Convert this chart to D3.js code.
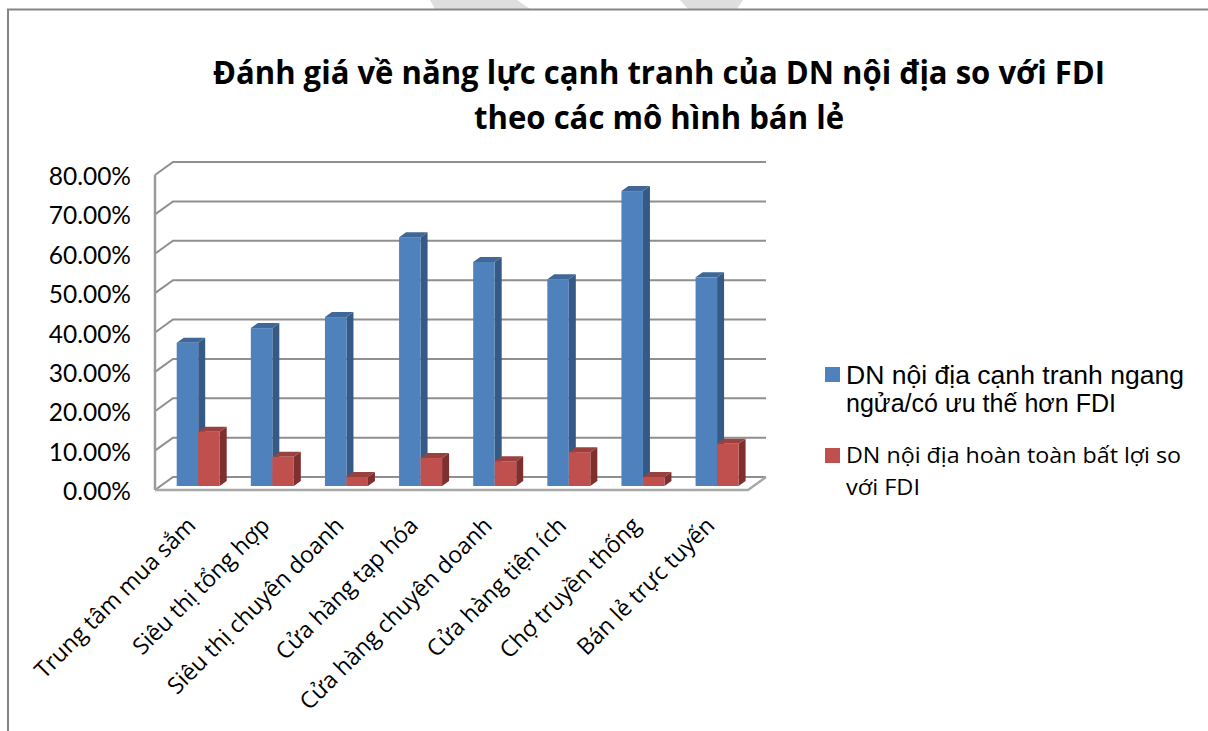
<!DOCTYPE html>
<html><head><meta charset="utf-8">
<script src="https://cdnjs.cloudflare.com/ajax/libs/d3/7.8.5/d3.min.js"></script>
<style>html,body{margin:0;background:#fff}svg{display:block}</style></head>
<body><svg id="c" width="1208" height="731"></svg>
<script>
const categories = ["Trung tâm mua sắm","Siêu thị tổng hợp","Siêu thị chuyên doanh","Cửa hàng tạp hóa","Cửa hàng chuyên doanh","Cửa hàng tiện ích","Chợ truyền thống","Bán lẻ trực tuyến"];
const domestic = [36.4,40.1,42.9,63.2,56.9,52.5,74.9,53.0];
const disadvantaged = [13.8,7.4,2.3,7.1,6.3,8.6,2.3,10.7];
const yTicks = [0,10,20,30,40,50,60,70,80];
const titleLines = ["Đánh giá về năng lực cạnh tranh của DN nội địa so với FDI","theo các mô hình bán lẻ"];
const legendOne = ["DN nội địa cạnh tranh ngang","ngửa/có ưu thế hơn FDI"];
const legendTwo = ["DN nội địa hoàn toàn bất lợi so","với FDI"];

const svg = d3.select("#c");
const sans = "'Open Sans', 'Noto Sans', sans-serif";
const dx = 18, dy = 13, bdx = 7, bdy = 5;
const x0 = 155, x1 = 748;
const y = d3.scaleLinear().domain([0,80]).range([490,175]);
const xCat = d3.scaleBand().domain(categories).range([x0+4,x1+4]);
const step = xCat.step();
const barW = 21.5, firstOffset = 17.7;

// watermark fragments above the frame
svg.append("path").attr("d","M430 0L435 9L530 9L517 0Z").attr("fill","#dedede");
svg.append("path").attr("d","M680 0L688 9L737 9L743 0Z").attr("fill","#dedede");

// frame
svg.append("path").attr("d","M8 731V9.5H1208").attr("fill","none").attr("stroke","#858585").attr("stroke-width",2);

// title
const titleWidths = [892,370];
svg.append("g").selectAll("text").data(titleLines).join("text")
  .attr("x",659).attr("y",(d,i)=>84+i*45).attr("text-anchor","middle")
  .attr("textLength",(d,i)=>titleWidths[i]).attr("lengthAdjust","spacingAndGlyphs")
  .attr("font-family",sans).attr("font-weight",700).attr("font-size",33).attr("fill","#000").text(d=>d);

// walls + gridlines
svg.append("g").attr("fill","none").attr("stroke","#8f8f8f").attr("stroke-width",2)
  .selectAll("path").data(yTicks).join("path")
  .attr("d",d=>`M${x0} ${y(d)}L${x0+dx} ${y(d)-dy}H${x1+dx}`);
svg.append("path").attr("d",`M${x0} ${y(0)}V${y(80)}`).attr("stroke","#9a9a9a").attr("stroke-width",2.5).attr("fill","none");
svg.append("path").attr("d",`M${x0} ${y(0)}H${x1}L${x1+dx} ${y(0)-dy}`).attr("stroke","#a8a8a8").attr("stroke-width",2.5).attr("fill","none");

// y labels
svg.append("g").selectAll("text").data(yTicks).join("text")
  .attr("x",131).attr("y",d=>y(d)+10).attr("text-anchor","end")
  .attr("font-family","Lato, sans-serif").attr("font-size",24.5).attr("fill","#000").text(d=>d.toFixed(2)+"%");

// bars
const base = y(0)-4;
const h = d => y(0)-y(d);
function bar(g, X, v, c, top, side){
  const T = base-h(v);
  g.append("path").attr("fill",side).attr("d",`M${X+barW} ${T}l${bdx} ${-bdy}V${base-bdy}l${-bdx} ${bdy}Z`);
  g.append("path").attr("fill",top).attr("d",`M${X} ${T}l${bdx} ${-bdy}h${barW}l${-bdx} ${bdy}Z`);
  g.append("rect").attr("fill",c).attr("x",X).attr("width",barW).attr("y",T).attr("height",h(v));
}
categories.forEach((c,i)=>{
  const g = svg.append("g"), X = xCat(c)+firstOffset;
  bar(g, X, domestic[i], "#4f81bd","#3f6797","#355a86");
  bar(g, X+barW, disadvantaged[i], "#c0504d","#9a403e","#7f302e");
});

// category labels
svg.append("g").selectAll("text").data(categories).join("text")
  .attr("text-anchor","end")
  .attr("transform",c=>`translate(${xCat(c)+step*0.5+1},${527}) rotate(-45)`)
  .attr("font-family",sans).attr("font-size",23).attr("fill","#000").text(c=>c);

// legend
const lg = svg.append("g");
lg.append("rect").attr("x",825).attr("y",367).attr("width",15).attr("height",15).attr("fill","#4f81bd");
lg.append("rect").attr("x",825).attr("y",448).attr("width",15).attr("height",15).attr("fill","#c0504d");
const legendOneWidths = [338,270];
lg.selectAll(".a").data(legendOne).join("text").attr("class","a").attr("x",846).attr("y",(d,i)=>384+i*28)
  .attr("textLength",(d,i)=>legendOneWidths[i]).attr("lengthAdjust","spacingAndGlyphs")
  .attr("font-family","'Liberation Sans',Arial,sans-serif").attr("font-size",26.5).text(d=>d);
const legendTwoWidths = [335,74];
lg.selectAll(".b").data(legendTwo).join("text").attr("class","b").attr("x",846).attr("y",(d,i)=>463+i*32)
  .attr("textLength",(d,i)=>legendTwoWidths[i]).attr("lengthAdjust","spacingAndGlyphs")
  .attr("font-family",sans).attr("font-size",22.5).text(d=>d);
</script></body></html>
